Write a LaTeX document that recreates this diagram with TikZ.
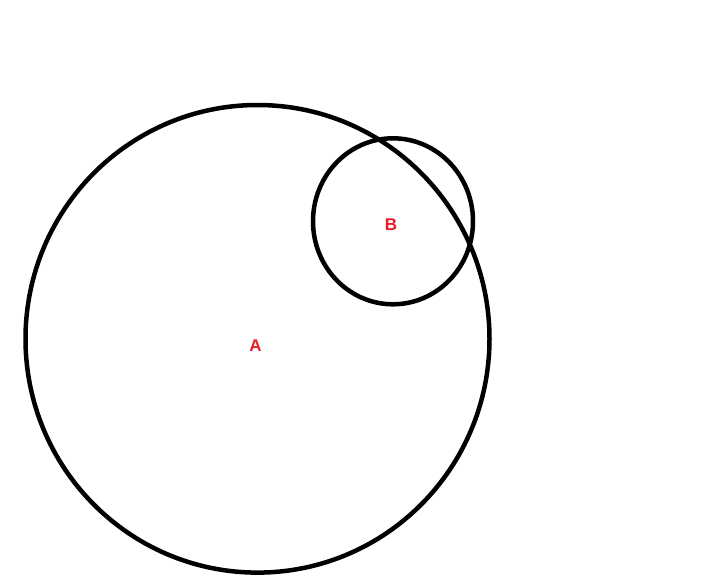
\documentclass[tikz,border=0pt]{standalone}
\usepackage{fontspec}
\setmainfont{Liberation Sans}
\definecolor{lblred}{RGB}{237,28,36}
\begin{document}
\begin{tikzpicture}[x=1pt,y=-1pt,
  ring/.style={draw=black,line width=4.5pt},
  lbl/.style={text=lblred,font=\fontsize{17}{19}\selectfont\bfseries,inner sep=0pt}]
\useasboundingbox (0,0) rectangle (713,579);
\draw[ring] (257.5,338.8) ellipse [x radius=232, y radius=233.8];
\draw[ring] (393,221.3) ellipse [x radius=80, y radius=83];
\node[lbl] (A) at (255.5,345.8) {A};
\node[lbl] (B) at (391,224.3) {B};
\end{tikzpicture}
\end{document}
